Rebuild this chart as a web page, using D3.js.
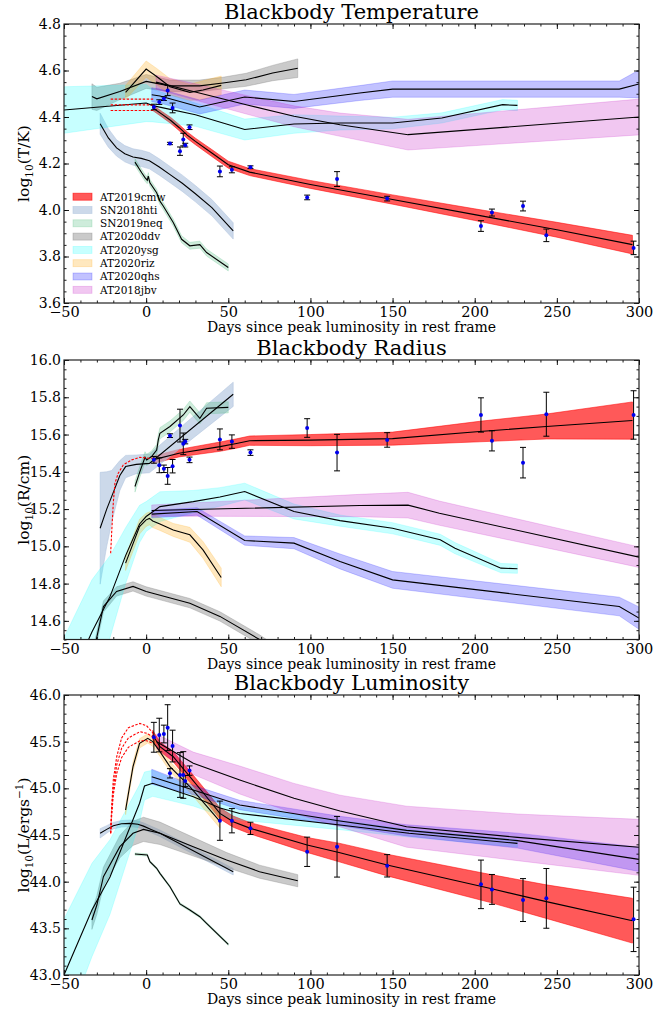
<!DOCTYPE html>
<html>
<head>
<meta charset="utf-8">
<script src="https://cdn.jsdelivr.net/npm/d3@7"></script>
<style>
  html, body { margin: 0; padding: 0; background: #fff; }
  svg text { font-family: "DejaVu Serif", "Liberation Serif", serif; fill: #000; }
</style>
</head>
<body>
<svg id="chart" width="653" height="1014"></svg>
<script>
// ---------------- series names (legend order) ----------------
const names = ["AT2019cmw", "SN2018hti", "SN2019neq", "AT2020ddv", "AT2020ysg", "AT2020riz", "AT2020qhs", "AT2018jbv"];

// ---------------- AT2019cmw photometric fits (days, value, 1-sigma) ----------------
const obsDays = [4.7, 8.0, 10.8, 13.1, 14.5, 16.1, 20.6, 22.6, 23.8, 26.4, 44.9, 52.2, 63.5, 98.0, 116.2, 146.7, 203.8, 210.5, 229.4, 243.6, 296.7];
const obsT    = [4.443, 4.464, 4.479, 4.514, 4.286, 4.439, 4.253, 4.303, 4.279, 4.356, 4.166, 4.173, 4.184, 4.054, 4.133, 4.049, 3.931, 3.989, 4.017, 3.891, 3.837];
const obsTerr = [0.012, 0.010, 0.008, 0.022, 0.005, 0.021, 0.018, 0.027, 0.008, 0.010, 0.023, 0.013, 0.006, 0.010, 0.032, 0.010, 0.023, 0.015, 0.021, 0.027, 0.029];
const obsR    = [15.464, 15.435, 15.416, 15.378, 15.594, 15.430, 15.648, 15.550, 15.562, 15.464, 15.574, 15.562, 15.503, 15.635, 15.503, 15.571, 15.705, 15.566, 15.449, 15.709, 15.705];
const obsRerr = [0.018, 0.040, 0.020, 0.045, 0.010, 0.036, 0.088, 0.058, 0.012, 0.015, 0.056, 0.036, 0.015, 0.050, 0.098, 0.039, 0.092, 0.054, 0.082, 0.118, 0.130];
const obsL    = [45.547, 45.571, 45.582, 45.650, 45.161, 45.453, 45.143, 45.143, 45.078, 45.190, 44.653, 44.653, 44.571, 44.320, 44.374, 44.170, 43.971, 43.917, 43.803, 43.821, 43.596];
const obsLerr = [0.16, 0.18, 0.095, 0.246, 0.05, 0.17, 0.24, 0.25, 0.06, 0.05, 0.21, 0.13, 0.066, 0.157, 0.325, 0.12, 0.26, 0.16, 0.23, 0.32, 0.345];

// ---------------- Temperature: log10(T/K) ----------------
const T_cmw_day = [4, 10, 15, 20, 25, 30, 40, 50, 63, 100, 150, 200, 250, 296];
const T_cmw_val = [4.44, 4.41, 4.385, 4.355, 4.322, 4.295, 4.245, 4.195, 4.163, 4.11, 4.045, 3.98, 3.915, 3.851];
const T_cmw_err = [0.012, 0.012, 0.013, 0.013, 0.014, 0.014, 0.015, 0.015, 0.015, 0.017, 0.02, 0.025, 0.032, 0.04];

const T_hti_day = [-28, -23, -18, -13, -8, -3, 2, 8, 15, 22, 30, 40, 53];
const T_hti_val = [4.371, 4.31, 4.267, 4.242, 4.228, 4.222, 4.212, 4.185, 4.15, 4.115, 4.07, 4.01, 3.91];
const T_hti_err = [0.045, 0.04, 0.035, 0.035, 0.035, 0.035, 0.035, 0.035, 0.035, 0.035, 0.035, 0.035, 0.035];

const T_neq_day = [-6.8, -2.7, -0.7, 0.7, 1.3, 2.3, 6.4, 8.4, 10.4, 16.5, 21.6, 26.6, 32.7, 36.8, 50];
const T_neq_val = [4.206, 4.16, 4.139, 4.128, 4.146, 4.117, 4.074, 4.038, 4.017, 3.946, 3.874, 3.846, 3.851, 3.817, 3.753];
const T_neq_err = [0.015, 0.015, 0.015, 0.015, 0.015, 0.015, 0.015, 0.015, 0.015, 0.015, 0.015, 0.015, 0.015, 0.015, 0.015];

const T_ddv_day = [-33, -30, -16, 0, 14.5, 32.6, 46.7, 60.9, 77, 92.3];
const T_ddv_val = [4.488, 4.478, 4.51, 4.553, 4.534, 4.534, 4.546, 4.56, 4.589, 4.61];
const T_ddv_err = [0.055, 0.05, 0.035, 0.03, 0.025, 0.025, 0.025, 0.028, 0.033, 0.04];

const T_ysg_day = [-50, 0, 4, 30, 60, 90, 118, 150, 180, 217, 226];
const T_ysg_val = [4.43, 4.46, 4.449, 4.41, 4.346, 4.37, 4.374, 4.374, 4.396, 4.453, 4.45];
const T_ysg_err = [0.1, 0.08, 0.07, 0.05, 0.045, 0.04, 0.03, 0.025, 0.022, 0.022, 0.022];

const T_riz_day = [-12.5, 0, 6.4, 14.5, 26.6, 34.6, 45.7];
const T_riz_val = [4.506, 4.606, 4.574, 4.53, 4.506, 4.516, 4.536];
const T_riz_err = [0.03, 0.035, 0.035, 0.035, 0.035, 0.04, 0.04];

const T_qhs_day = [3.4, 8.4, 32.6, 60, 90, 130, 150, 219, 288, 300];
const T_qhs_val = [4.496, 4.49, 4.443, 4.486, 4.467, 4.503, 4.52, 4.52, 4.52, 4.542];
const T_qhs_err = [0.03, 0.03, 0.03, 0.03, 0.03, 0.032, 0.035, 0.035, 0.035, 0.06];

const T_jbv_day = [6, 28.7, 60.9, 90, 118, 159.4, 300];
const T_jbv_val = [4.55, 4.51, 4.453, 4.403, 4.367, 4.324, 4.4];
const T_jbv_err = [0.03, 0.035, 0.04, 0.045, 0.05, 0.066, 0.077];

// early-time model curves (dashed)
const T_model_day = [-21.6, 4.5];
const T_model_a = [4.477, 4.477];
const T_model_b = [4.452, 4.452];
const T_model_c = [4.428, 4.428];

// ---------------- Radius: log10(R/cm) ----------------
const R_cmw_day = [4, 20, 45, 55, 63, 100, 150, 203, 243.6, 296];
const R_cmw_val = [15.464, 15.5, 15.535, 15.552, 15.567, 15.57, 15.578, 15.616, 15.643, 15.675];
const R_cmw_err = [0.02, 0.02, 0.025, 0.025, 0.025, 0.03, 0.035, 0.055, 0.067, 0.1];

const R_hti_day = [-28, -24, -21, -16, -12.5, -6, 2, 53];
const R_hti_val = [15.097, 15.2, 15.267, 15.38, 15.428, 15.44, 15.445, 15.816];
const R_hti_err = [0.3, 0.2, 0.14, 0.08, 0.06, 0.05, 0.05, 0.065];

const R_neq_day = [-6.8, -3.8, -0.7, 0.3, 3.3, 6.4, 7.4, 8.4, 14.5, 22.6, 26.6, 32.7, 36.8, 50];
const R_neq_val = [15.321, 15.401, 15.478, 15.464, 15.482, 15.517, 15.571, 15.607, 15.643, 15.705, 15.75, 15.687, 15.741, 15.746];
const R_neq_err = [0.03, 0.03, 0.03, 0.03, 0.03, 0.03, 0.03, 0.03, 0.03, 0.03, 0.03, 0.03, 0.03, 0.03];

const R_ddv_day = [-33, -26, -18, -8, 0, 26.6, 44.9, 69, 92.3];
const R_ddv_val = [14.39, 14.677, 14.758, 14.785, 14.758, 14.695, 14.624, 14.5, 14.36];
const R_ddv_err = [0.03, 0.03, 0.025, 0.025, 0.025, 0.025, 0.025, 0.025, 0.03];

const R_ysg_day = [-50, -33, -22, -12.5, -4, 0, 8.4, 28.7, 44.9, 60, 90, 118, 150, 179, 188, 216, 226];
const R_ysg_val = [14.21, 14.54, 14.73, 14.95, 15.12, 15.16, 15.213, 15.24, 15.265, 15.294, 15.187, 15.138, 15.097, 15.035, 14.99, 14.883, 14.88];
const R_ysg_err = [0.3, 0.28, 0.22, 0.15, 0.1, 0.08, 0.08, 0.06, 0.05, 0.045, 0.04, 0.03, 0.03, 0.03, 0.03, 0.025, 0.025];

const R_riz_day = [-12.5, -4, 0, 2, 4, 8.4, 16.5, 26.6, 34.6, 45.7];
const R_riz_val = [14.91, 15.106, 15.142, 15.15, 15.136, 15.12, 15.088, 15.062, 14.981, 14.833];
const R_riz_err = [0.04, 0.04, 0.035, 0.035, 0.035, 0.035, 0.035, 0.04, 0.045, 0.05];

const R_qhs_day = [3.4, 31, 60, 90, 118, 150, 288, 300];
const R_qhs_val = [15.173, 15.187, 15.031, 15.017, 14.919, 14.82, 14.677, 14.615];
const R_qhs_err = [0.02, 0.02, 0.025, 0.03, 0.04, 0.045, 0.05, 0.06];

const R_jbv_day = [3.4, 130, 159.4, 178.5, 300];
const R_jbv_val = [15.192, 15.219, 15.221, 15.178, 14.942];
const R_jbv_err = [0.03, 0.06, 0.069, 0.065, 0.055];

const R_model_day = [-21.6, -21, -20, -19, -17, -13.9, -8.8, -3.8, 1.3, 4.3];
const R_model_a = [14.963, 15.071, 15.232, 15.339, 15.392, 15.437, 15.464, 15.478, 15.473, 15.473];

// ---------------- Luminosity: log10(L/erg s^-1) ----------------
const L_cmw_day = [4, 8.4, 16.5, 26.6, 36.7, 44.9, 53, 63.5, 98, 118, 146.7, 209, 243.6, 296];
const L_cmw_val = [45.571, 45.446, 45.339, 45.125, 44.91, 44.732, 44.643, 44.571, 44.393, 44.31, 44.178, 43.929, 43.786, 43.582];
const L_cmw_err = [0.05, 0.05, 0.055, 0.06, 0.06, 0.06, 0.06, 0.06, 0.08, 0.1, 0.116, 0.15, 0.18, 0.24];

const L_hti_day = [-28, -24, -20, -15, -9.8, -5, -1.6, 3, 8.4, 53];
const L_hti_val = [44.518, 44.56, 44.6, 44.62, 44.625, 44.615, 44.595, 44.56, 44.518, 44.107];
const L_hti_err = [0.05, 0.04, 0.035, 0.035, 0.035, 0.035, 0.035, 0.035, 0.035, 0.035];

const L_neq_day = [-6.8, 0.7, 2.3, 6.4, 8.4, 14.5, 20.6, 26.6, 32.7, 36.8, 50];
const L_neq_val = [44.296, 44.286, 44.214, 44.143, 44.089, 43.946, 43.761, 43.696, 43.625, 43.554, 43.329];
const L_neq_err = [0.012, 0.012, 0.012, 0.012, 0.012, 0.012, 0.012, 0.012, 0.012, 0.012, 0.012];

const L_ddv_day = [-33, -30, -26, -16, -8, -1.6, 8.4, 28.7, 49, 69, 92.3];
const L_ddv_val = [43.589, 43.75, 44.054, 44.375, 44.518, 44.56, 44.518, 44.375, 44.232, 44.107, 44.01];
const L_ddv_err = [0.1, 0.1, 0.1, 0.12, 0.13, 0.13, 0.12, 0.1, 0.08, 0.07, 0.065];

const L_ysg_day = [-50, -33, -22, -4, -1, 4, 28.7, 45, 57, 118, 160, 226];
const L_ysg_val = [43.0, 43.696, 44.05, 44.84, 45.025, 45.054, 44.91, 44.79, 44.73, 44.607, 44.518, 44.41];
const L_ysg_err = [0.6, 0.5, 0.4, 0.2, 0.15, 0.14, 0.1, 0.08, 0.07, 0.05, 0.04, 0.04];

const L_riz_day = [-12.5, -8, -4, 1, 4, 8.4, 14.5, 26.6, 45];
const L_riz_val = [44.768, 45.232, 45.482, 45.536, 45.5, 45.393, 45.232, 45.018, 44.643];
const L_riz_err = [0.05, 0.05, 0.05, 0.05, 0.05, 0.05, 0.05, 0.06, 0.07];

const L_qhs_day = [3.4, 28.7, 57, 118, 158.5, 226, 300];
const L_qhs_val = [45.125, 44.982, 44.821, 44.65, 44.55, 44.44, 44.239];
const L_qhs_err = [0.08, 0.05, 0.05, 0.05, 0.06, 0.08, 0.13];

const L_jbv_day = [6.4, 28.7, 57, 90, 118, 158.5, 226, 300];
const L_jbv_val = [45.5, 45.268, 45.089, 44.893, 44.757, 44.589, 44.475, 44.368];
const L_jbv_err = [0.08, 0.12, 0.15, 0.16, 0.17, 0.22, 0.25, 0.3];

const L_model_day = [-21.6, -21, -20, -17.9, -14.9, -10.8, -3.8, 0.3, 4.3];
const L_model_a = [44.518, 44.80, 45.09, 45.34, 45.54, 45.65, 45.696, 45.67, 45.59];
const L_model_b = [44.518, 44.75, 45.0, 45.25, 45.43, 45.54, 45.607, 45.59, 45.55];
const L_model_c = [44.518, 44.70, 44.93, 45.16, 45.33, 45.44, 45.51, 45.51, 45.482];

// ---------------- tick values ----------------
const xTicks = [-50, 0, 50, 100, 150, 200, 250, 300];
const tTicks = [3.6, 3.8, 4.0, 4.2, 4.4, 4.6, 4.8];
const rTicks = [14.6, 14.8, 15.0, 15.2, 15.4, 15.6, 15.8, 16.0];
const lTicks = [43.0, 43.5, 44.0, 44.5, 45.0, 45.5, 46.0];

// ---------------- styling per object ----------------
const bandStyle = {
  AT2019cmw: { fill: "#ff0000", op: 0.65 },
  SN2018hti: { fill: "#b0c4de", op: 0.65 },
  SN2019neq: { fill: "#3cb371", op: 0.25 },
  AT2020ddv: { fill: "#808080", op: 0.42 },
  AT2020ysg: { fill: "#00ffff", op: 0.22 },
  AT2020riz: { fill: "#ffa500", op: 0.25 },
  AT2020qhs: { fill: "#0000ff", op: 0.24 },
  AT2018jbv: { fill: "#bf00bf", op: 0.22 }
};

const rows = (day, val, err) => day.map((d, i) => ({ d, v: val[i], e: err ? err[i] : 0 }));

const panels = [
  {
    title: "Blackbody Temperature", top: 24, bottom: 303, domain: [3.6, 4.8],
    ticks: tTicks, minor: 0.05, fmt: d3.format(".1f"), ylab: ["log", "10", "(T/K)"], legend: true,
    series: {
      AT2019cmw: rows(T_cmw_day, T_cmw_val, T_cmw_err), SN2018hti: rows(T_hti_day, T_hti_val, T_hti_err),
      SN2019neq: rows(T_neq_day, T_neq_val, T_neq_err), AT2020ddv: rows(T_ddv_day, T_ddv_val, T_ddv_err),
      AT2020ysg: rows(T_ysg_day, T_ysg_val, T_ysg_err), AT2020riz: rows(T_riz_day, T_riz_val, T_riz_err),
      AT2020qhs: rows(T_qhs_day, T_qhs_val, T_qhs_err), AT2018jbv: rows(T_jbv_day, T_jbv_val, T_jbv_err)
    },
    models: [rows(T_model_day, T_model_a), rows(T_model_day, T_model_b), rows(T_model_day, T_model_c)],
    obs: rows(obsDays, obsT, obsTerr)
  },
  {
    title: "Blackbody Radius", top: 360, bottom: 639.5, domain: [14.5, 16.0],
    ticks: rTicks, minor: 0.05, fmt: d3.format(".1f"), ylab: ["log", "10", "(R/cm)"],
    series: {
      AT2019cmw: rows(R_cmw_day, R_cmw_val, R_cmw_err), SN2018hti: rows(R_hti_day, R_hti_val, R_hti_err),
      SN2019neq: rows(R_neq_day, R_neq_val, R_neq_err), AT2020ddv: rows(R_ddv_day, R_ddv_val, R_ddv_err),
      AT2020ysg: rows(R_ysg_day, R_ysg_val, R_ysg_err), AT2020riz: rows(R_riz_day, R_riz_val, R_riz_err),
      AT2020qhs: rows(R_qhs_day, R_qhs_val, R_qhs_err), AT2018jbv: rows(R_jbv_day, R_jbv_val, R_jbv_err)
    },
    models: [rows(R_model_day, R_model_a)],
    obs: rows(obsDays, obsR, obsRerr)
  },
  {
    title: "Blackbody Luminosity", top: 695, bottom: 975, domain: [43.0, 46.0],
    ticks: lTicks, minor: 0.1, fmt: d3.format(".1f"), ylab: ["log", "10", "(L/ergs", "−1", ")"],
    series: {
      AT2019cmw: rows(L_cmw_day, L_cmw_val, L_cmw_err), SN2018hti: rows(L_hti_day, L_hti_val, L_hti_err),
      SN2019neq: rows(L_neq_day, L_neq_val, L_neq_err), AT2020ddv: rows(L_ddv_day, L_ddv_val, L_ddv_err),
      AT2020ysg: rows(L_ysg_day, L_ysg_val, L_ysg_err), AT2020riz: rows(L_riz_day, L_riz_val, L_riz_err),
      AT2020qhs: rows(L_qhs_day, L_qhs_val, L_qhs_err), AT2018jbv: rows(L_jbv_day, L_jbv_val, L_jbv_err)
    },
    models: [rows(L_model_day, L_model_a), rows(L_model_day, L_model_b), rows(L_model_day, L_model_c)],
    obs: rows(obsDays, obsL, obsLerr)
  }
];

const svg = d3.select("#chart");
const X0 = 64, X1 = 639;
const x = d3.scaleLinear().domain([-50, 300]).range([X0, X1]);

panels.forEach((p, pi) => {
  const y = d3.scaleLinear().domain(p.domain).range([p.bottom, p.top]);
  const g = svg.append("g");

  const clipId = "clip" + pi;
  svg.append("clipPath").attr("id", clipId)
    .append("rect").attr("x", X0).attr("y", p.top).attr("width", X1 - X0).attr("height", p.bottom - p.top);

  const plot = g.append("g").attr("clip-path", `url(#${clipId})`);

  // shaded uncertainty bands
  const area = d3.area().x(d => x(d.d)).y0(d => y(d.v - d.e)).y1(d => y(d.v + d.e));
  names.forEach(n => {
    const st = bandStyle[n];
    plot.append("path").datum(p.series[n]).attr("d", area)
      .attr("fill", st.fill).attr("fill-opacity", st.op)
      .attr("stroke", st.fill).attr("stroke-opacity", st.op).attr("stroke-width", 0.8);
  });

  // central curves
  const line = d3.line().x(d => x(d.d)).y(d => y(d.v));
  names.forEach(n => {
    plot.append("path").datum(p.series[n]).attr("d", line)
      .attr("fill", "none").attr("stroke", "#000").attr("stroke-width", 1.1);
  });

  // early-time model curves
  p.models.forEach(m => {
    plot.append("path").datum(m).attr("d", line)
      .attr("fill", "none").attr("stroke", "#ff0000").attr("stroke-width", 1.1)
      .attr("stroke-dasharray", "2.5,1.5");
  });

  // AT2019cmw measurements with error bars
  const eb = plot.append("g").attr("stroke", "#000").attr("stroke-width", 1);
  p.obs.forEach(o => {
    const cx = x(o.d), ylo = y(o.v - o.e), yhi = y(o.v + o.e);
    eb.append("line").attr("x1", cx).attr("x2", cx).attr("y1", ylo).attr("y2", yhi);
    eb.append("line").attr("x1", cx - 3).attr("x2", cx + 3).attr("y1", ylo).attr("y2", ylo);
    eb.append("line").attr("x1", cx - 3).attr("x2", cx + 3).attr("y1", yhi).attr("y2", yhi);
  });
  plot.append("g").selectAll("circle").data(p.obs).join("circle")
    .attr("cx", d => x(d.d)).attr("cy", d => y(d.v)).attr("r", 2).attr("fill", "#0000ee");

  // axes with inward ticks on all four sides
  const xMinor = d3.range(-50, 301, 10);
  const yMinor = d3.range(Math.round(p.domain[0] / p.minor), Math.round(p.domain[1] / p.minor) + 1).map(k => +(k * p.minor).toFixed(3));

  const addAxis = (axis, tx, ty, labels) => {
    const a = g.append("g").attr("transform", `translate(${tx},${ty})`).call(axis);
    a.select(".domain").remove();
    a.selectAll("line").attr("stroke", "#000").attr("stroke-width", 0.9);
    if (!labels) a.selectAll("text").remove();
    return a;
  };
  const bx = addAxis(d3.axisBottom(x).tickValues(xTicks).tickFormat(d3.format("d")).tickSizeInner(-5).tickSizeOuter(0).tickPadding(4), 0, p.bottom, true);
  bx.selectAll("text").attr("font-size", 14.5);
  addAxis(d3.axisBottom(x).tickValues(xMinor).tickSizeInner(-2.5).tickSizeOuter(0), 0, p.bottom, false);
  addAxis(d3.axisTop(x).tickValues(xTicks).tickSizeInner(-5).tickSizeOuter(0), 0, p.top, false);
  addAxis(d3.axisTop(x).tickValues(xMinor).tickSizeInner(-2.5).tickSizeOuter(0), 0, p.top, false);

  const ly = addAxis(d3.axisLeft(y).tickValues(p.ticks).tickFormat(p.fmt).tickSizeInner(-5).tickSizeOuter(0).tickPadding(3), X0, 0, true);
  ly.selectAll("text").attr("font-size", 14);
  addAxis(d3.axisLeft(y).tickValues(yMinor).tickSizeInner(-2.5).tickSizeOuter(0), X0, 0, false);
  addAxis(d3.axisRight(y).tickValues(p.ticks).tickSizeInner(-5).tickSizeOuter(0), X1, 0, false);
  addAxis(d3.axisRight(y).tickValues(yMinor).tickSizeInner(-2.5).tickSizeOuter(0), X1, 0, false);

  g.append("rect").attr("x", X0).attr("y", p.top).attr("width", X1 - X0).attr("height", p.bottom - p.top)
    .attr("fill", "none").attr("stroke", "#222").attr("stroke-width", 1.2);

  // titles and axis labels
  g.append("text").attr("x", (X0 + X1) / 2).attr("y", p.top - 5.5).attr("text-anchor", "middle")
    .attr("font-size", 21).text(p.title);
  g.append("text").attr("x", (X0 + X1) / 2).attr("y", p.bottom + 29).attr("text-anchor", "middle")
    .attr("font-size", 14).text("Days since peak luminosity in rest frame");

  const yl = g.append("text").attr("font-size", 15.5).attr("text-anchor", "middle")
    .attr("transform", `translate(29,${(p.top + p.bottom) / 2}) rotate(-90)`);
  yl.append("tspan").text(p.ylab[0]);
  yl.append("tspan").attr("font-size", 10.5).attr("dy", 4).text(p.ylab[1]);
  yl.append("tspan").attr("dy", -4).text(p.ylab[2]);
  if (p.ylab.length > 3) {
    yl.append("tspan").attr("font-size", 10.5).attr("dy", -6).text(p.ylab[3]);
    yl.append("tspan").attr("dy", 6).text(p.ylab[4]);
  }

  // legend
  if (p.legend) {
    const lg = g.append("g");
    names.forEach((n, i) => {
      const st = bandStyle[n];
      const cy = 196.7 + i * 13.3;
      lg.append("rect").attr("x", 73).attr("y", cy - 3.5).attr("width", 19).attr("height", 7)
        .attr("fill", st.fill).attr("fill-opacity", st.op)
        .attr("stroke", st.fill).attr("stroke-opacity", st.op).attr("stroke-width", 0.8);
      lg.append("text").attr("x", 100).attr("y", cy + 3.8).attr("font-size", 10.5).text(n);
    });
  }
});
</script>
</body>
</html>
